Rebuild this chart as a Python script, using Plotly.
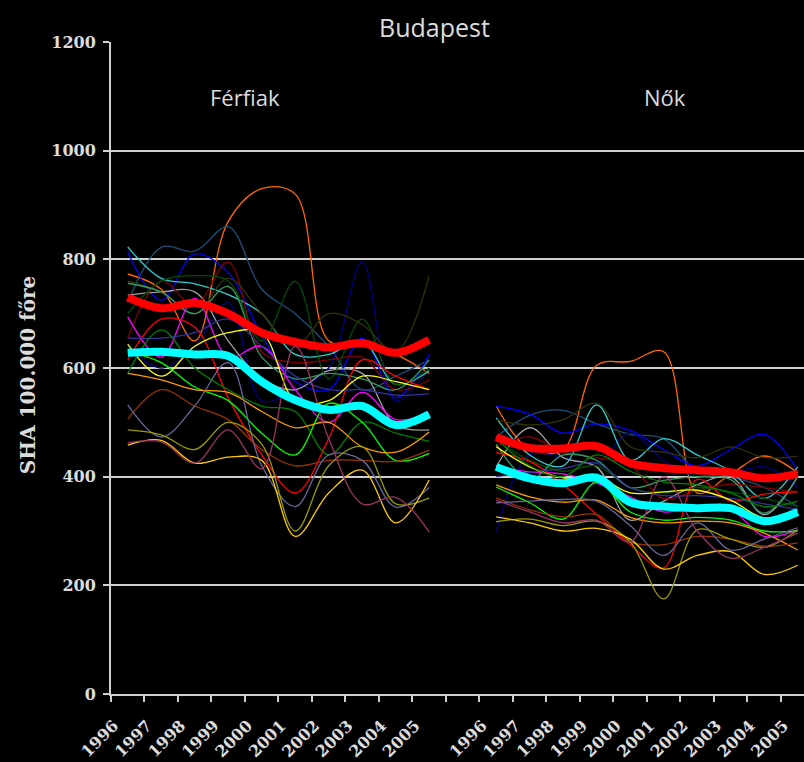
import plotly.graph_objects as go

years = ["1996", "1997", "1998", "1999", "2000", "2001", "2002", "2003", "2004", "2005"]
panel_titles = ["Férfiak", "Nők"]
y_ticks = [0, 200, 400, 600, 800, 1000, 1200]

# Men (Férfiak) – thin district lines
m_orange = [773, 745, 650, 870, 930, 920, 650, 645, 625, 590]
m_darkteal = [720, 822, 815, 860, 745, 700, 640, 560, 585, 615]
m_blue = [813, 725, 810, 775, 660, 575, 560, 655, 545, 625]
m_navy = [640, 600, 640, 720, 540, 560, 600, 795, 540, 600]
m_cyan = [823, 765, 755, 735, 700, 625, 625, 650, 570, 595]
m_gray = [734, 740, 740, 650, 580, 560, 595, 590, 495, 486]
m_maroon = [655, 760, 715, 795, 630, 610, 615, 620, 560, 578]
m_darkgreen = [700, 760, 770, 760, 650, 760, 580, 690, 570, 600]
m_darkolive = [760, 740, 700, 765, 700, 640, 700, 680, 630, 770]
m_seagreen = [756, 740, 700, 750, 620, 580, 590, 580, 560, 615]
m_magenta = [694, 620, 728, 620, 640, 560, 500, 555, 505, 517]
m_red = [615, 690, 675, 545, 440, 370, 470, 615, 585, 560]
m_slateblue = [655, 655, 665, 690, 640, 585, 560, 560, 550, 553]
m_yellow = [644, 585, 640, 665, 665, 540, 540, 585, 575, 560]
m_green = [590, 670, 600, 560, 530, 520, 440, 500, 480, 465]
m_brightgreen = [630, 610, 565, 540, 480, 440, 535, 500, 430, 443]
m_orange2 = [590, 578, 560, 555, 520, 490, 500, 455, 445, 482]
m_brown = [506, 560, 530, 505, 450, 420, 430, 430, 428, 449]
m_slate = [532, 473, 530, 610, 420, 345, 440, 430, 344, 380]
m_oliveyellow = [486, 477, 450, 500, 460, 300, 420, 455, 350, 361]
m_gold = [458, 467, 425, 436, 430, 290, 370, 412, 315, 394]
m_mauve = [462, 464, 425, 486, 415, 640, 470, 350, 362, 298]

# Women (Nők) – thin district lines
w_orange = [530, 450, 450, 605, 612, 630, 370, 405, 438, 407]
w_darkteal = [473, 513, 522, 497, 478, 470, 410, 400, 380, 345]
w_blue = [530, 515, 480, 497, 485, 450, 420, 450, 478, 412]
w_navy = [298, 440, 435, 425, 480, 430, 400, 405, 418, 381]
w_cyan = [508, 440, 420, 532, 430, 470, 440, 410, 360, 418]
w_gray = [418, 490, 435, 418, 320, 355, 385, 400, 330, 400]
w_maroon = [455, 473, 445, 435, 420, 360, 375, 386, 380, 372]
w_darkgreen = [467, 430, 410, 420, 380, 370, 380, 372, 360, 345]
w_darkolive = [505, 495, 505, 535, 455, 445, 435, 455, 435, 438]
w_seagreen = [460, 395, 440, 430, 380, 393, 400, 395, 333, 400]
w_magenta = [418, 409, 405, 388, 363, 335, 345, 340, 290, 302]
w_red = [444, 428, 385, 330, 275, 232, 395, 355, 368, 372]
w_slateblue = [400, 408, 415, 425, 380, 365, 365, 360, 350, 340]
w_yellow = [455, 418, 398, 400, 370, 372, 375, 357, 324, 339]
w_green = [470, 420, 400, 440, 410, 390, 385, 370, 345, 355]
w_brightgreen = [381, 352, 322, 390, 335, 320, 325, 320, 300, 300]
w_orange2 = [385, 363, 353, 357, 325, 315, 318, 315, 296, 265]
w_brown = [361, 339, 326, 330, 280, 275, 290, 285, 272, 278]
w_slate = [352, 355, 358, 355, 310, 255, 315, 265, 285, 306]
w_oliveyellow = [317, 322, 310, 318, 280, 175, 302, 285, 270, 302]
w_gold = [326, 315, 300, 305, 285, 230, 255, 262, 220, 237]
w_mauve = [357, 335, 315, 320, 280, 400, 300, 250, 270, 296]

# Highlighted thick lines
m_thick_red = [730, 710, 720, 700, 665, 648, 638, 646, 628, 652]
m_thick_cyan = [628, 630, 625, 622, 575, 541, 523, 530, 495, 515]
w_thick_red = [473, 453, 452, 456, 425, 416, 412, 408, 397, 405]
w_thick_cyan = [418, 397, 388, 398, 353, 345, 342, 342, 318, 335]

# ---- styles ----
thin_lines = [
    ("#ff6600", m_orange, w_orange),
    ("#1f4e79", m_darkteal, w_darkteal),
    ("#0000ff", m_blue, w_blue),
    ("#000080", m_navy, w_navy),
    ("#33cccc", m_cyan, w_cyan),
    ("#a0a0a0", m_gray, w_gray),
    ("#800000", m_maroon, w_maroon),
    ("#004d00", m_darkgreen, w_darkgreen),
    ("#333300", m_darkolive, w_darkolive),
    ("#339966", m_seagreen, w_seagreen),
    ("#ff00ff", m_magenta, w_magenta),
    ("#ff0000", m_red, w_red),
    ("#333399", m_slateblue, w_slateblue),
    ("#ffff00", m_yellow, w_yellow),
    ("#008000", m_green, w_green),
    ("#00ff00", m_brightgreen, w_brightgreen),
    ("#ff9900", m_orange2, w_orange2),
    ("#993300", m_brown, w_brown),
    ("#666699", m_slate, w_slate),
    ("#999900", m_oliveyellow, w_oliveyellow),
    ("#ffcc00", m_gold, w_gold),
    ("#993366", m_mauve, w_mauve),
]
thick_lines = [
    ("#ff0000", m_thick_red, w_thick_red),
    ("#00ffff", m_thick_cyan, w_thick_cyan),
]

n = len(years)
x_men = list(range(n))
x_women = [i + n + 1 for i in range(n)]

fig = go.Figure()
for color, mv, wv in thin_lines:
    for xs, vs in ((x_men, mv), (x_women, wv)):
        fig.add_trace(go.Scatter(x=xs, y=vs, mode="lines",
                                 line=dict(color=color, width=1.3, shape="spline"),
                                 showlegend=False, hoverinfo="skip"))
for color, mv, wv in thick_lines:
    for xs, vs in ((x_men, mv), (x_women, wv)):
        fig.add_trace(go.Scatter(x=xs, y=vs, mode="lines",
                                 line=dict(color=color, width=8, shape="spline"),
                                 showlegend=False, hoverinfo="skip"))

axis_col = "#d0d0d0"
text_col = "#dcdcdc"
serif = "DejaVu Serif"

fig.update_layout(
    width=804, height=762,
    margin=dict(l=111, r=0, t=42, b=68),
    paper_bgcolor="black", plot_bgcolor="black",
    showlegend=False,
    xaxis=dict(
        range=[-0.5, 20.19],
        tickmode="array", tickvals=x_men + x_women, ticktext=years + years,
        ticks="", tickangle=-45,
        tickfont=dict(family=serif, size=16, color=text_col, weight="bold"),
        ticklabelstandoff=14, ticklabelshift=-14, ticklabeloverflow="allow",
        showgrid=False, zeroline=False,
        showline=True, linecolor=axis_col, linewidth=2,
        minor=dict(ticks="outside", tick0=0.5, dtick=1, ticklen=6,
                   tickcolor=axis_col, tickwidth=2, showgrid=False),
    ),
    yaxis=dict(
        range=[0, 1200], tickmode="array", tickvals=y_ticks,
        ticks="outside", ticklen=6, tickcolor=axis_col, tickwidth=2,
        tickfont=dict(family=serif, size=16, color=text_col, weight="bold"),
        ticklabelstandoff=4,
        showgrid=True, gridcolor=axis_col, gridwidth=2,
        zeroline=False, showline=True, linecolor=axis_col, linewidth=2,
    ),
    annotations=[
        dict(text="Budapest", xref="paper", yref="paper", x=0.4675, y=1.023,
             xanchor="center", yanchor="middle", showarrow=False,
             font=dict(family="Open Sans", size=25, color=text_col)),
        dict(text=panel_titles[0], xref="paper", yref="paper", x=0.1934, y=0.9157,
             xanchor="center", yanchor="middle", showarrow=False,
             font=dict(family="Open Sans", size=22, color=text_col)),
        dict(text=panel_titles[1], xref="paper", yref="paper", x=0.7994, y=0.9157,
             xanchor="center", yanchor="middle", showarrow=False,
             font=dict(family="Open Sans", size=22, color=text_col)),
        dict(text="SHA 100.000 főre", xref="paper", yref="paper", x=-0.1198, y=0.489,
             xanchor="center", yanchor="middle", showarrow=False, textangle=-90,
             font=dict(family=serif, size=20, color=text_col, weight="bold")),
    ],
)

fig.write_html(
    "out.html",
    config={"displayModeBar": False},
    post_script="document.body.style.margin='0';document.body.style.padding='0';"
                "document.body.style.background='black';document.body.style.overflow='hidden';",
)
